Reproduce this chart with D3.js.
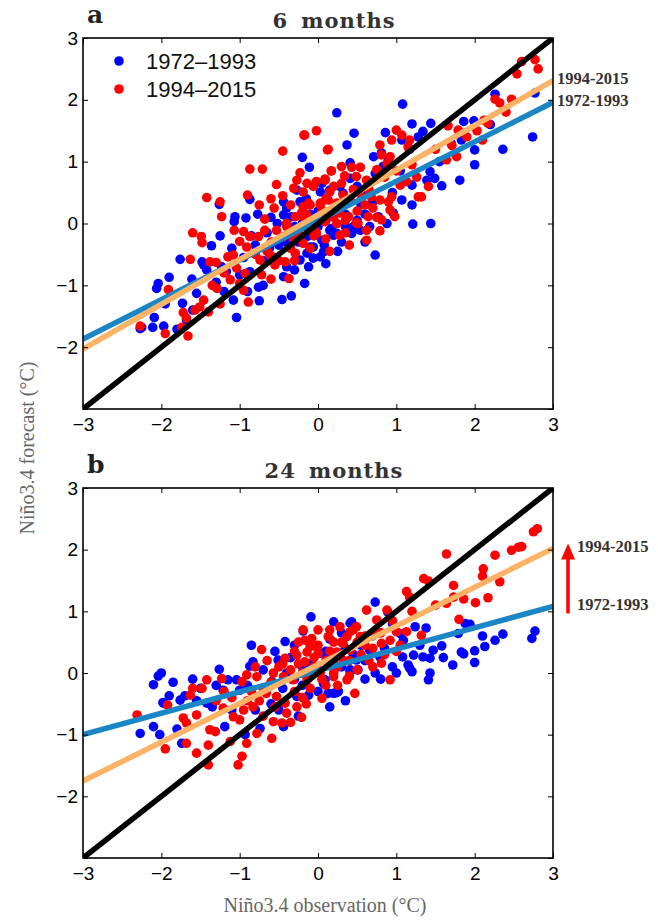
<!DOCTYPE html>
<html>
<head>
<meta charset="utf-8">
<script src="https://cdn.jsdelivr.net/npm/d3@7"></script>
<style>
  body { margin: 0; background: #fff; }
</style>
</head>
<body>
<div id="chart"></div>
<script>
// ---- data ----
const xTicks = [-3, -2, -1, 0, 1, 2, 3];
const yTicks = [-3, -2, -1, 0, 1, 2, 3];
const periods = ["1972–1993", "1994–2015"];
const fitLabels = ["1972-1993", "1994-2015"];
const panelLetters = ["a", "b"];
const panelTitles = ["6 months", "24 months"];

// regression lines: forecast value at x = -3 and x = 3
const fitX = [-3, 3];
const fitA_early = [-1.87, 1.96];
const fitA_late = [-2.03, 2.31];
const fitB_early = [-1.0, 1.08];
const fitB_late = [-1.75, 2.02];

// [observation, forecast]
const a_early = [
  [0.24,1.79],[-0.20,1.07],[-0.11,0.91],[-1.26,0.31],[-1.06,0.11],[-1.07,0.03],[-0.92,0.09],[-0.77,0.15],
  [-0.87,0.39],[-1.25,-0.20],[-1.36,-0.36],[-1.76,-0.58],[-1.48,-0.62],[-1.42,-0.75],[-1.90,-0.87],[-2.04,-0.97],
  [-2.06,-1.05],[-1.61,-0.90],[-1.55,-1.13],[-1.73,-1.29],[-2.09,-1.52],[-2.11,-1.68],[-2.25,-1.68],[-1.97,-1.66],
  [-1.80,-1.71],[-1.68,-1.56],[-1.04,-1.52],[-1.08,-1.24],[-0.75,-1.25],[-0.46,-1.23],[-0.34,-1.17],[-0.17,-0.97],
  [-0.44,-0.86],[-0.70,-1.00],[-0.76,-1.03],[-0.87,-0.78],[-1.00,-0.83],[-1.23,-0.70],[-1.17,-0.78],[-1.46,-0.67],
  [-0.44,0.35],[-0.40,0.25],[-0.44,0.14],[-0.34,0.11],[-0.23,0.35],[-0.27,0.54],[0.03,0.51],[0.15,0.54],
  [-0.14,-0.21],[-0.06,-0.38],[0.05,-0.27],[0.15,-0.11],[0.24,-0.16],[-0.14,-0.48],[-0.23,-0.59],[0.03,-0.54],
  [1.08,1.93],[1.20,1.61],[1.44,1.62],[0.46,1.46],[0.37,1.27],[0.86,1.47],[1.34,1.49],[1.07,1.35],
  [1.28,1.40],[0.71,1.08],[0.90,1.04],[1.17,1.20],[0.41,0.98],[1.86,1.65],[1.99,1.66],[2.26,2.09],
  [2.77,2.11],[2.74,1.40],[2.36,1.20],[2.00,1.19],[1.83,1.35],[2.00,0.95],[1.81,0.70],[1.58,0.61],
  [1.49,0.73],[1.39,0.70],[1.43,0.84],[1.20,0.62],[1.07,0.38],[1.20,0.30],[0.96,0.17],[1.21,-0.01],
  [1.44,0.00],[0.73,-0.51],[0.66,-0.05],[0.88,0.00],[0.77,0.11],[0.43,-0.16],[0.54,-0.11],[0.28,0.60],
  [0.41,0.73],[0.32,0.49],[0.62,0.54],[0.73,0.81],[0.83,0.92],[0.81,1.14],[0.20,-0.19],[0.07,-0.46],
  [-0.10,-0.38],[-0.06,-0.56],[0.45,-0.05],[0.17,-0.08],[-2.27,-1.70],[-0.30,-0.75],[-0.12,-0.70],[0.10,-0.65],
  [-0.55,-0.55],[-0.62,-0.40],[-0.05,-0.15],[0.10,0.05],[0.35,0.15],[0.55,0.30],[0.60,0.15],[-0.30,-0.05],
  [-0.52,0.00],[0.00,0.20],[0.30,0.30],[-0.65,-0.15],[-0.80,-0.35],[-1.10,-0.40],[-1.30,-0.95],[-0.95,-0.55],
  [-0.40,-0.30],[-0.25,-0.30],[-0.15,-0.05],[0.00,-0.05],[0.08,-0.35],[0.30,-0.30],[0.35,-0.05],[0.50,0.05],
  [0.20,0.25],[-0.10,0.15],[-0.20,0.00],[-0.35,-0.15],[-0.50,-0.35],[-0.70,-0.60],[-0.85,-0.20],[-0.60,0.10],
  [-0.15,0.40],[0.05,0.65],[0.50,0.60],[0.70,0.35],[0.95,0.50],[1.05,0.85],[0.25,-0.45],[-0.40,-0.70],
  [-0.90,-1.10],[-1.20,-1.10],[-1.60,-1.40],[-1.95,-1.30],[0.60,-0.30],[1.55,1.00],[1.70,1.30],[2.20,1.60]
];
const a_late = [
  [-0.17,1.43],[-0.02,1.50],[-0.45,1.17],[0.12,1.19],[-0.87,0.88],[-0.71,0.88],[-0.23,0.82],[0.17,0.85],
  [-0.27,0.70],[-0.53,0.63],[-0.14,0.65],[-0.02,0.68],[0.09,0.70],[-0.31,0.57],[-1.42,0.42],[-1.25,0.35],
  [-0.90,0.46],[-1.23,0.11],[-0.56,0.25],[-0.68,0.07],[-0.19,0.27],[-0.10,0.30],[0.03,0.33],[0.13,0.38],
  [0.24,0.33],[-0.29,0.11],[-0.21,0.17],[-1.07,-0.11],[-0.95,-0.13],[-0.87,-0.21],[-0.76,-0.21],[-0.68,-0.11],
  [-1.60,-0.15],[-1.49,-0.21],[-1.48,-0.31],[-0.53,-0.11],[-0.40,-0.05],[-0.44,-0.21],[-0.31,-0.27],[-0.19,-0.32],
  [-0.04,-0.11],[0.09,0.03],[0.24,0.00],[-1.00,-0.29],[-0.91,-0.38],[-1.08,-0.51],[-1.15,-0.54],[-1.63,-0.58],
  [-1.38,-0.62],[-1.30,-0.63],[-0.74,-0.59],[-0.61,-0.51],[-0.55,-0.67],[-0.42,-0.62],[-0.29,-0.48],[-1.04,-0.72],
  [-0.93,-0.81],[-0.72,-0.83],[-1.12,-0.91],[-1.00,-0.97],[-0.37,-0.89],[-1.29,-1.05],[-0.95,-1.08],[-0.89,-1.27],
  [-1.46,-1.24],[-1.51,-1.35],[-1.57,-1.40],[-1.72,-1.44],[-1.68,-1.53],[-1.40,-1.43],[-1.91,-1.07],[-1.95,-1.78],
  [-1.74,-1.68],[-1.66,-1.82],[-2.27,-1.66],
  [2.60,2.62],[2.77,2.65],[2.81,2.50],[2.54,2.42],[2.26,2.01],[2.32,1.95],[2.47,2.01],[2.12,1.67],
  [2.17,1.62],[2.10,1.35],[2.03,1.50],[1.79,1.51],[1.66,1.58],[1.71,1.26],[1.77,1.08],[1.64,1.03],
  [1.41,0.60],[1.32,0.43],[1.26,0.75],[1.00,1.51],[1.07,1.43],[1.17,1.35],[1.15,1.24],[0.94,1.35],
  [0.79,1.27],[0.81,1.11],[0.92,1.08],[-0.18,1.43],[0.13,1.20],[0.17,0.85],[0.30,0.92],[0.43,0.91],
  [0.54,0.91],[0.09,0.72],[0.34,0.77],[0.49,0.76],[0.62,0.70],[0.75,0.87],[0.88,0.97],[-0.06,0.60],
  [-0.19,0.51],[-0.12,0.33],[0.03,0.30],[0.15,0.51],[0.32,0.46],[0.41,0.38],[0.56,0.43],[0.68,0.43],
  [0.79,0.38],[0.90,0.35],[0.94,0.43],[1.05,0.62],[1.13,0.68],[1.28,0.43],[0.11,0.14],[0.28,0.17],
  [0.39,0.11],[0.64,0.11],[0.81,0.06],[0.92,0.22],[0.51,0.00],[0.62,-0.11],[0.79,-0.12],[0.28,-0.19],
  [-0.10,-0.05],[-0.19,0.11],[-0.02,-0.16],[0.49,0.01],[0.62,-0.27],[0.98,0.11],
  [-0.05,-0.20],[0.10,-0.25],[0.20,0.10],[0.35,0.05],[-0.35,-0.40],[-0.60,-0.30],[-0.80,-0.50],[0.50,0.20],
  [0.60,0.30],[0.70,0.25],[-0.15,0.15],[0.05,0.20],[-0.25,-0.15],[-0.50,-0.60],
  [-0.35,0.30],[-0.45,0.45],[-0.60,0.40],[-0.75,0.30],[-0.30,-0.60],[-0.10,-0.40],[0.15,-0.45],[0.40,-0.35],
  [0.45,0.55],[0.65,0.55],[0.85,0.75],[1.00,0.85],[1.20,0.95],[0.20,0.60],[-0.05,0.05],[0.10,0.40],
  [-0.40,0.00],[-0.65,-0.45],[-1.20,-0.80],[-1.35,-1.00],[-1.25,-1.30],[-0.60,-0.90],[1.50,1.20],[1.90,1.40],
  [2.40,1.80],[0.35,-0.15],[0.75,0.10],[0.30,0.65]
];
const b_early = [
  [-0.09,0.91],[0.20,0.83],[0.41,0.81],[-0.19,0.68],[-0.42,0.51],[-0.30,0.45],[-0.85,0.45],[-0.83,0.18],
  [-0.87,0.11],[-0.51,0.21],[-1.26,0.06],[-1.15,-0.11],[-1.60,-0.10],[-2.00,0.00],[-2.04,-0.05],[-2.10,-0.19],
  [-1.90,-0.37],[-1.76,-0.44],[-1.70,-0.37],[-1.97,-0.49],[-2.10,-0.87],[-2.27,-0.98],[-2.02,-1.00],[-1.80,-0.91],
  [-1.74,-1.14],[-1.42,-0.49],[-1.21,-0.28],[-1.19,-0.87],[-0.93,-1.00],[-0.74,-0.90],[-0.44,-0.87],[-0.12,-0.36],
  [-0.27,-0.38],[0.13,-0.33],[0.26,-0.30],[0.07,-0.17],[0.41,0.05],[0.49,0.21],[0.11,0.21],[0.28,0.32],
  [0.03,0.32],[-1.04,-0.11],[-1.00,-0.28],[-0.66,-0.28],[-0.59,-0.14],
  [0.73,1.15],[0.89,0.99],[0.43,0.83],[1.24,0.75],[1.38,0.73],[1.88,0.80],[1.94,0.79],[1.79,0.64],
  [2.36,0.63],[2.26,0.53],[2.13,0.43],[2.00,0.36],[2.77,0.68],[2.73,0.56],[1.83,0.34],[1.86,0.31],
  [1.58,0.44],[1.47,0.37],[1.34,0.26],[1.43,0.24],[1.22,0.29],[1.08,0.26],[2.00,0.17],[1.72,0.13],
  [1.15,0.13],[1.20,0.02],[1.43,0.00],[1.41,-0.11],[0.73,0.00],[0.79,0.26],[0.66,0.37],[0.69,0.60],
  [0.51,0.05],[0.41,0.02],[0.25,-0.30],[0.20,-0.33],[0.09,-0.11],[1.05,0.64],[1.09,0.53],[0.23,-0.32],
  [-1.98,-0.48],[1.17,0.08],
  [-0.30,-0.10],[-0.45,-0.25],[-0.60,-0.50],[-0.20,0.10],[0.00,0.05],[0.20,0.15],[0.35,0.40],[0.55,0.45],
  [0.60,-0.10],[0.85,0.40],[0.95,0.10],[-0.80,-0.60],[-1.35,-0.55],[-1.50,-0.25],[-0.35,0.25],[0.15,0.55],
  [0.30,0.65],[0.95,0.80],
  [-0.10,0.15],[0.10,0.35],[0.30,0.10],[0.45,0.30],[-0.40,0.00],[-0.55,0.35],[-0.70,0.05],[-0.90,-0.20],
  [-1.10,-0.60],[-1.30,-0.20],[-1.55,-0.45],[-1.85,-0.15],[-0.20,-0.20],[0.00,-0.30],[0.60,0.20],[0.80,-0.10],
  [1.00,0.00],[1.30,0.45],[1.60,0.25],[2.10,0.60],[-0.50,-0.60],[-0.25,-0.70],[0.15,-0.55],[0.35,-0.45]
];
const b_late = [
  [0.15,0.70],[0.13,0.59],[-0.08,0.56],[-0.72,0.38],[-0.42,0.24],[-0.27,0.29],[-0.14,0.34],[-0.02,0.43],
  [0.32,0.48],[0.45,0.70],[0.37,0.59],[-0.91,-0.03],[-0.78,-0.06],[-0.97,-0.14],[-1.23,-0.09],[-1.42,-0.11],
  [-1.48,-0.25],[-1.60,-0.25],[-1.63,-0.36],[-1.92,-0.52],[-0.57,0.00],[-0.44,-0.06],[-0.32,-0.11],[-0.14,-0.11],
  [0.03,0.00],[0.20,-0.06],[0.37,-0.11],[-0.66,-0.33],[-0.53,-0.38],[-0.42,-0.49],[-0.27,-0.55],[0.05,-0.41],
  [-0.83,-0.55],[-0.95,-0.60],[-1.21,-0.57],[-1.55,-0.68],[-1.72,-0.73],[-1.68,-0.81],[-1.08,-0.71],[-1.00,-0.76],
  [-0.57,-0.79],[-0.46,-0.81],[-0.21,-0.72],[-1.38,-0.92],[-1.31,-0.95],[-0.78,-0.98],[-1.12,-1.11],[-0.91,-1.14],
  [-0.59,-1.06],[-1.68,-1.14],[-1.95,-1.23],[-1.40,-1.17],[-1.55,-1.30],[-0.97,-1.35],[-1.02,-1.49],[-1.40,-1.49],
  [0.47,-0.33],
  [2.80,2.34],[2.75,2.29],[2.56,2.04],[2.47,1.99],[2.60,2.05],[2.26,1.91],[1.64,1.93],[2.11,1.69],
  [2.10,1.57],[2.32,1.48],[1.73,1.42],[1.41,1.49],[1.13,1.32],[1.17,1.23],[1.73,1.23],[1.86,1.20],
  [2.01,1.14],[2.17,1.22],[1.64,1.13],[1.80,0.87],[1.32,0.61],[0.62,1.02],[0.88,1.02],[0.75,0.86],
  [0.28,0.75],[0.41,0.67],[0.49,0.75],[0.54,0.59],[0.60,0.45],[0.81,0.48],[0.92,0.53],[1.00,0.67],
  [1.13,0.67],[-0.17,0.53],[-0.10,0.43],[0.00,0.32],[0.24,0.34],[0.41,0.37],[0.75,0.64],[0.81,0.16],
  [0.92,-0.11],[-0.17,0.18],[0.20,0.00],[0.32,0.21],[-2.31,-0.68],[-0.19,0.70],[1.35,1.53],
  [-0.35,0.05],[-0.20,0.00],[-0.05,0.10],[0.10,0.20],[0.25,0.10],[0.40,0.20],[0.55,0.30],[0.65,0.20],
  [0.70,0.40],[-0.60,-0.15],[-0.70,-0.25],[-0.30,-0.30],[-0.10,-0.25],[0.10,-0.20],[-0.50,0.10],[-0.25,0.15],
  [0.00,0.45],[0.30,0.50],[-0.85,-0.30],[-1.10,-0.40],[-1.30,-0.45],[0.50,0.05],[0.85,0.30],[1.05,0.45],
  [-0.40,-0.65],[-0.15,-0.50],
  [-0.45,0.15],[-0.30,0.35],[-0.05,0.25],[0.15,0.35],[0.20,0.50],[0.05,-0.10],[-0.10,-0.05],[-0.20,-0.40],
  [0.25,-0.20],[0.40,-0.05],[0.60,0.60],[0.70,0.10],[-0.55,-0.55],[-0.75,-0.45],[-0.90,-0.45],[-1.20,-0.30],
  [-0.65,0.20],[-0.80,0.10],[-0.35,-0.80],[-0.70,-0.70],[1.20,1.00],[1.50,1.10],[0.95,0.85],[0.00,0.70],
  [-0.25,0.50],[0.50,0.50],[0.80,0.65],[1.00,0.35]
];

// ---- drawing ----
const width = 658, height = 921;
const left = 83, right = 553;
const colEarly = "#0000ff", colLate = "#ff0000";
const fitEarly = "#1a86c6", fitLate = "#fdb366";
const dotR = 4.8;

const svg = d3.select("#chart").append("svg")
  .attr("width", width).attr("height", height)
  .attr("viewBox", [0, 0, width, height]);

const x = d3.scaleLinear().domain([-3, 3]).range([left, right]);

const panels = [
  { top: 38, bottom: 409, early: a_early, late: a_late, fits: [fitA_early, fitA_late], labelX: right + 4, arrow: false },
  { top: 488, bottom: 858, early: b_early, late: b_late, fits: [fitB_early, fitB_late], labelX: right + 24, arrow: true }
];

const defs = svg.append("defs");
panels.forEach((p, i) => {
  defs.append("clipPath").attr("id", "clip" + i)
    .append("rect").attr("x", left).attr("y", p.top)
    .attr("width", right - left).attr("height", p.bottom - p.top);
});

panels.forEach((p, i) => {
  const y = d3.scaleLinear().domain([-3, 3]).range([p.bottom, p.top]);
  const g = svg.append("g");

  // points: blue first, red over it
  g.append("g").selectAll("circle").data(p.early).join("circle")
    .attr("cx", d => x(d[0])).attr("cy", d => y(d[1])).attr("r", dotR).attr("fill", colEarly);
  g.append("g").selectAll("circle").data(p.late).join("circle")
    .attr("cx", d => x(d[0])).attr("cy", d => y(d[1])).attr("r", dotR).attr("fill", colLate);

  const line = d3.line().x(d => x(d[0])).y(d => y(d[1]));
  const lines = [
    { pts: fitX.map((v, k) => [v, p.fits[0][k]]), c: fitEarly },
    { pts: fitX.map((v, k) => [v, p.fits[1][k]]), c: fitLate },
    { pts: fitX.map(v => [v, v]), c: "#000" }
  ];
  lines.forEach(l => {
    g.append("path").datum(l.pts).attr("d", line)
      .attr("fill", "none").attr("stroke", l.c).attr("stroke-width", 5.5)
      .attr("clip-path", `url(#clip${i})`);
  });

  // axes with inward ticks on all four sides
  const fmt = d3.format("");
  g.append("g").attr("transform", `translate(0,${p.bottom})`)
    .call(d3.axisBottom(x).tickValues(xTicks).tickSize(-5).tickPadding(9).tickFormat(fmt));
  g.append("g").attr("transform", `translate(0,${p.top})`)
    .call(d3.axisTop(x).tickValues(xTicks).tickSize(-5).tickFormat(""));
  g.append("g").attr("transform", `translate(${left},0)`)
    .call(d3.axisLeft(y).tickValues(yTicks).tickSize(-5).tickPadding(5)
      .tickFormat(d => d === -3 ? "" : fmt(d)));
  g.append("g").attr("transform", `translate(${right},0)`)
    .call(d3.axisRight(y).tickValues(yTicks).tickSize(-5).tickFormat(""));

  g.selectAll(".domain").remove();
  g.selectAll(".tick line").attr("stroke", "#000").attr("stroke-width", 1);
  g.selectAll(".tick text").attr("font-family", "Liberation Sans, Arial, sans-serif")
    .attr("font-size", 19).attr("fill", "#000");

  g.append("rect").attr("x", left).attr("y", p.top)
    .attr("width", right - left).attr("height", p.bottom - p.top)
    .attr("fill", "none").attr("stroke", "#000").attr("stroke-width", 1.6);

  // panel letter and title
  svg.append("text").attr("x", 87).attr("y", p.top - 15)
    .attr("font-family", "DejaVu Serif, serif").attr("font-weight", "bold")
    .attr("font-size", 25).attr("fill", "#222").text(panelLetters[i]);
  svg.append("text").attr("x", 334).attr("y", p.top - 10)
    .attr("text-anchor", "middle")
    .attr("font-family", "DejaVu Serif, serif").attr("font-weight", "bold")
    .attr("font-size", 21).attr("letter-spacing", 1).attr("word-spacing", 5)
    .attr("fill", "#333").text(panelTitles[i]);

  // end-of-line labels
  fitLabels.forEach((lab, k) => {
    svg.append("text").attr("x", p.labelX).attr("y", y(p.fits[k][1]))
      .attr("dominant-baseline", "middle")
      .attr("font-family", "Liberation Serif, serif").attr("font-weight", "bold")
      .attr("font-size", 16.5).attr("fill", "#333").text(lab);
  });

  if (p.arrow) {
    const ax = right + 15;
    const y0 = y(p.fits[0][1]) + 7, y1 = y(p.fits[1][1]) - 5;
    svg.append("line").attr("x1", ax).attr("x2", ax).attr("y1", y0).attr("y2", y1 + 12)
      .attr("stroke", colLate).attr("stroke-width", 3.5);
    svg.append("path")
      .attr("d", d3.line()([[ax - 7, y1 + 16], [ax, y1], [ax + 7, y1 + 16]]) + "Z")
      .attr("fill", colLate);
  }
});

// legend in panel a
periods.forEach((lab, k) => {
  const ly = 61 + k * 28;
  svg.append("circle").attr("cx", 119).attr("cy", ly).attr("r", dotR)
    .attr("fill", k === 0 ? colEarly : colLate);
  svg.append("text").attr("x", 146).attr("y", ly + 8)
    .attr("font-family", "Liberation Sans, Arial, sans-serif").attr("font-size", 22)
    .attr("fill", "#111").text(lab);
});

// axis titles
svg.append("text")
  .attr("transform", `translate(34,448) rotate(-90)`)
  .attr("text-anchor", "middle")
  .attr("font-family", "Liberation Serif, serif").attr("font-size", 20)
  .attr("fill", "#666").text("Niño3.4 forecast (°C)");
svg.append("text").attr("x", 325).attr("y", 912)
  .attr("text-anchor", "middle")
  .attr("font-family", "Liberation Serif, serif").attr("font-size", 20)
  .attr("fill", "#666").text("Niño3.4 observation (°C)");
</script>
</body>
</html>
